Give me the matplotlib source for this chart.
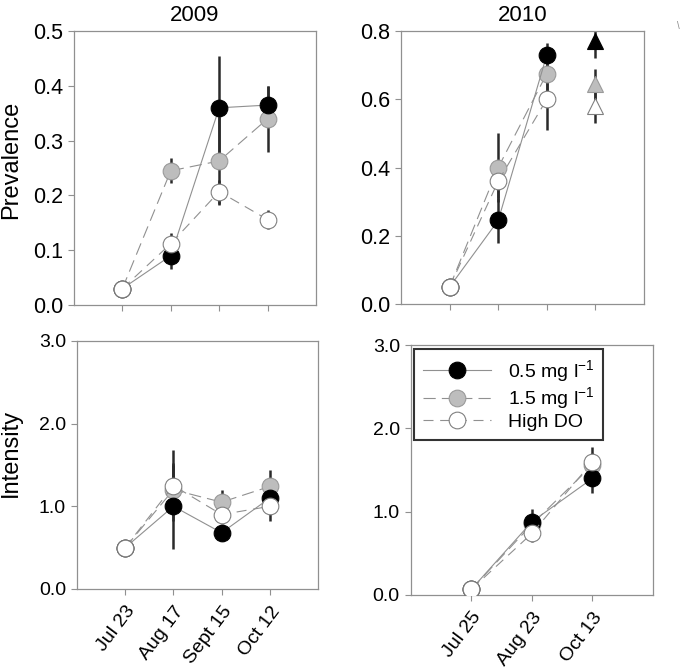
import numpy as np
import matplotlib
matplotlib.use('Agg')
from matplotlib import pyplot as plt

plt.rcParams['font.family'] = ['Liberation Sans', 'DejaVu Sans']
plt.rcParams['mathtext.fontset'] = 'custom'
plt.rcParams['mathtext.rm'] = 'Liberation Sans'
plt.rcParams['mathtext.it'] = 'Liberation Sans:italic'
plt.rcParams['mathtext.default'] = 'regular'

# datos
fechas09 = ['Jul 23', 'Aug 17', 'Sept 15', 'Oct 12']
fechas10 = ['Jul 25', 'Aug 23', 'Oct 13']
trat = ['0.5 mg l$^{-1}$', '1.5 mg l$^{-1}$', 'High DO']

prev09_05 = [0.03, 0.09, 0.36, 0.365]
prev09_05e = [0, 0.024, 0.095, 0.035]
prev09_15 = [0.03, 0.245, 0.263, 0.34]
prev09_15e = [0, 0.023, 0.08, 0.06]
prev09_hi = [0.03, 0.112, 0.207, 0.156]
prev09_hie = [0, 0.02, 0.022, 0.017]

prev10_05 = [0.05, 0.245, 0.73]
prev10_05e = [0, 0.065, 0.035]
prev10_15 = [0.05, 0.40, 0.675]
prev10_15e = [0, 0.10, 0.06]
prev10_hi = [0.05, 0.36, 0.60]
prev10_hie = [0, 0.05, 0.09]
# triangulos (cuarta posicion)
tri10 = [0.77, 0.645, 0.58]
tri10e = [0.05, 0.045, 0.05]

int09_05 = [0.5, 1.0, 0.68, 1.1]
int09_05e = [0, 0.52, 0.1, 0.1]
int09_15 = [0.5, 1.2, 1.05, 1.24]
int09_15e = [0, 0.3, 0.15, 0.2]
int09_hi = [0.5, 1.25, 0.9, 1.0]
int09_hie = [0, 0.43, 0.1, 0.18]

int10_05 = [0.07, 0.88, 1.4]
int10_05e = [0, 0.15, 0.18]
int10_15 = [0.07, 0.85, 1.56]
int10_15e = [0, 0.1, 0.15]
int10_hi = [0.07, 0.74, 1.6]
int10_hie = [0, 0.1, 0.18]

gris = '#909090'
estilos = [
    dict(mfc='black', mec='black', dashes=(), z=4),
    dict(mfc='#bdbdbd', mec='#9a9a9a', dashes=(11, 5.5), z=3),
    dict(mfc='white', mec='#808080', dashes=(9, 6), z=5),
]


def series(ax, x, ys, es):
    hs = []
    for i in range(3):
        st = estilos[i]
        ax.errorbar(x, ys[i], yerr=es[i], fmt='none', ecolor='#2a2a2a',
                    elinewidth=1.8, capsize=0, zorder=2)
        h, = ax.plot(x, ys[i], color=gris, lw=0.8, marker='o', ms=12,
                     mfc=st['mfc'], mec=st['mec'], mew=0.8, zorder=st['z'],
                     label=trat[i])
        if st['dashes']:
            h.set_dashes(st['dashes'])
        hs.append(h)
    return hs


def estilo_ejes(ax, ticks, xlim, ylim, yticks, lsize):
    ax.set_xlim(*xlim)
    ax.set_ylim(*ylim)
    ax.set_xticks(ticks)
    ax.set_yticks(yticks)
    ax.set_yticklabels(['%.1f' % v for v in yticks])
    for s in ax.spines.values():
        s.set_color(gris)
        s.set_linewidth(0.9)
    ax.tick_params(direction='out', length=4, width=0.8, color=gris,
                   labelsize=lsize, pad=4)


fig = plt.figure(figsize=(6.82, 6.68), dpi=100)

# 2009 prevalencia
ax1 = fig.add_axes([0.1085, 0.5434, 0.3548, 0.410])
x09 = np.arange(1, 5)
series(ax1, x09, [prev09_05, prev09_15, prev09_hi],
       [prev09_05e, prev09_15e, prev09_hie])
estilo_ejes(ax1, x09, (0, 5), (0, 0.5), np.arange(0, 0.51, 0.1), 15.5)
ax1.tick_params(labelbottom=False)
ax1.set_title('2009', fontsize=16, pad=7)
ax1.set_ylabel('Prevalence', fontsize=17)
ax1.yaxis.set_label_coords(-0.215, 0.53)

# 2010 prevalencia
ax2 = fig.add_axes([0.588, 0.5449, 0.3563, 0.4087])
x10 = np.arange(1, 4)
series(ax2, x10, [prev10_05, prev10_15, prev10_hi],
       [prev10_05e, prev10_15e, prev10_hie])
for i in range(3):
    st = estilos[i]
    ax2.errorbar([4], [tri10[i]], yerr=[tri10e[i]], fmt='none',
                 ecolor='#2a2a2a', elinewidth=1.8, capsize=0, zorder=2,
                 clip_on=True)
    ax2.plot([4], [tri10[i]], ls='none', marker='^', ms=12, mfc=st['mfc'],
             mec=st['mec'], mew=0.8, zorder=st['z'])
estilo_ejes(ax2, np.arange(1, 5), (0, 5), (0, 0.8), np.arange(0, 0.81, 0.2), 15.5)
ax2.tick_params(labelbottom=False)
ax2.set_title('2010', fontsize=16, pad=7)

# 2009 intensidad
ax3 = fig.add_axes([0.1129, 0.1183, 0.3534, 0.3713])
series(ax3, x09, [int09_05, int09_15, int09_hi],
       [int09_05e, int09_15e, int09_hie])
estilo_ejes(ax3, x09, (0, 5), (0, 3), np.arange(0, 3.1, 1.0), 14)
ax3.set_xticklabels(fechas09, rotation=53, ha='right', rotation_mode='anchor',
                    fontsize=14)
ax3.tick_params(axis='x', pad=6)
ax3.set_ylabel('Intensity', fontsize=17)
ax3.yaxis.set_label_coords(-0.228, 0.55)

# 2010 intensidad
ax4 = fig.add_axes([0.6026, 0.1093, 0.3548, 0.374])
hs = series(ax4, x10, [int10_05, int10_15, int10_hi],
            [int10_05e, int10_15e, int10_hie])
estilo_ejes(ax4, x10, (0, 4), (0, 3), np.arange(0, 3.1, 1.0), 14)
ax4.set_xticklabels(fechas10, rotation=53, ha='right', rotation_mode='anchor',
                    fontsize=14)
ax4.tick_params(axis='x', pad=6)
leg = ax4.legend(handles=hs, loc='upper left', bbox_to_anchor=(0.012, 0.985),
                 borderaxespad=0, fontsize=14, fancybox=False,
                 handlelength=3.5, handletextpad=0.9, labelspacing=0.1,
                 borderpad=0.45)
leg.get_frame().set_edgecolor('black')
leg.get_frame().set_linewidth(1.5)

fig.text(0.993, 0.957, '\\', fontsize=7, color='#888888')

plt.savefig('out.png', dpi=100)
